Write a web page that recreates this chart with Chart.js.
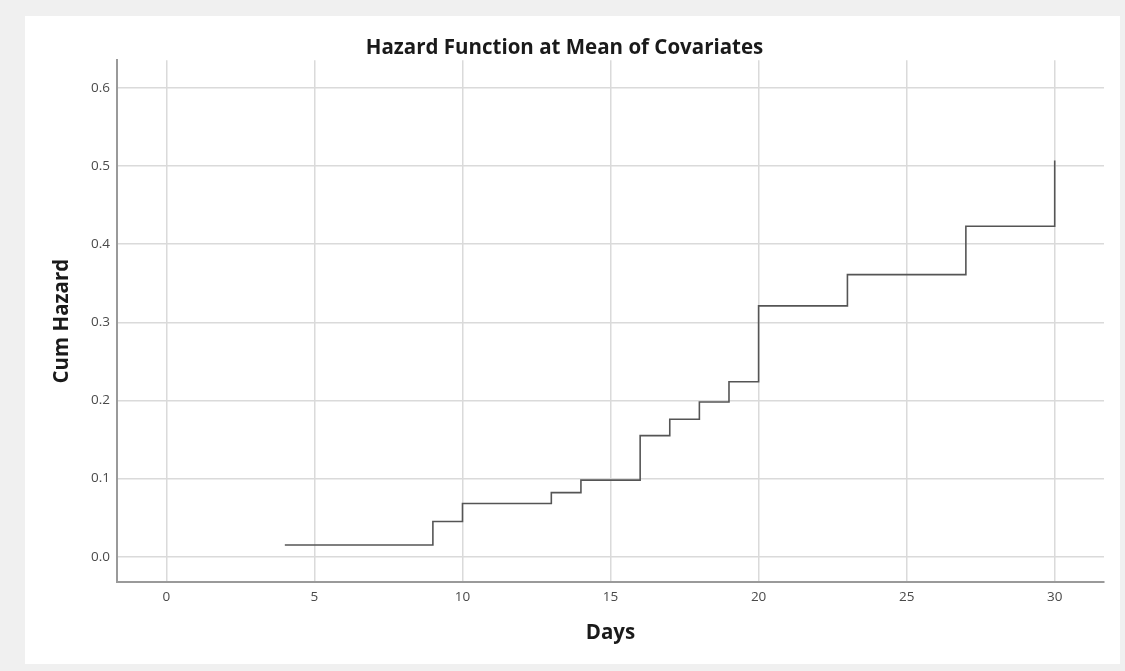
<!DOCTYPE html>
<html>
<head>
<meta charset="utf-8">
<script src="https://cdn.jsdelivr.net/npm/chart.js@4"></script>
<style>
  html, body { margin: 0; padding: 0; background: #f0f0f0; }
  #wrap { width: 1125px; height: 671px; }
</style>
</head>
<body>
<div id="wrap"><canvas id="hazardChart" width="1125" height="671"></canvas></div>
<script>
// cumulative hazard, step function (value holds until the next day listed)
const days = [4, 9, 10, 13, 14, 16, 17, 18, 19, 20, 23, 27, 30];
const cumHazard = [0.015, 0.045, 0.068, 0.082, 0.098, 0.155, 0.176, 0.198, 0.224, 0.321, 0.361, 0.423, 0.507];

const xTicks = [0, 5, 10, 15, 20, 25, 30];
const yTicks = [0.0, 0.1, 0.2, 0.3, 0.4, 0.5, 0.6];

const tickFont = { family: "'Open Sans', sans-serif", size: 13.5 };
const boldFont = (s) => ({ family: "'Open Sans', sans-serif", size: s, weight: "bold" });

// grey page with the white chart panel on it
const panelBg = {
  id: "panelBg",
  beforeDraw(chart) {
    const ctx = chart.ctx;
    ctx.save();
    ctx.fillStyle = "#f0f0f0";
    ctx.fillRect(0, 0, chart.width, chart.height);
    ctx.fillStyle = "#ffffff";
    ctx.fillRect(25, 16, 1095, 648);
    ctx.restore();
  },
};

const ctxEl = document.getElementById("hazardChart").getContext("2d");

const chart = new Chart(ctxEl, {
  type: "line",
  data: {
    datasets: [
      {
        label: "Cum Hazard",
        data: days.map((d, i) => ({ x: d, y: cumHazard[i] })),
        stepped: true,
        borderColor: "#555555",
        borderWidth: 1.6,
        pointRadius: 0,
        fill: false,
      },
    ],
  },
  options: {
    responsive: false,
    animation: false,
    layout: { padding: { top: 16, left: 25, right: 21, bottom: 7 } },
    plugins: {
      legend: { display: false },
      tooltip: { enabled: false },
      title: {
        display: true,
        text: "Hazard Function at Mean of Covariates",
        color: "#1a1a1a",
        font: boldFont(20.5),
        padding: { top: 19.7, bottom: 0 },
      },
    },
    scales: {
      x: {
        type: "linear",
        min: -1.668,
        max: 31.665,
        afterBuildTicks: (scale) => {
          scale.ticks = xTicks.map((v) => ({ value: v }));
        },
        afterFit: (scale) => {
          scale.height = 82;
        },
        ticks: { color: "#4a4a4a", font: tickFont, padding: 7 },
        grid: { color: "#dadada", lineWidth: 1.5, drawTicks: false },
        border: { color: "#9a9a9a", width: 2 },
        title: {
          display: true,
          text: "Days",
          color: "#1a1a1a",
          font: boldFont(20.5),
          padding: { top: 0, bottom: 18.7 },
        },
      },
      y: {
        type: "linear",
        min: -0.0324,
        max: 0.6354,
        afterBuildTicks: (scale) => {
          scale.ticks = yTicks.map((v) => ({ value: v }));
        },
        afterFit: (scale) => {
          scale.width = 92;
        },
        ticks: {
          color: "#4a4a4a",
          font: tickFont,
          padding: 7,
          callback: (v) => Number(v).toFixed(1),
        },
        grid: { color: "#dadada", lineWidth: 1.5, drawTicks: false },
        border: { color: "#9a9a9a", width: 2 },
        title: {
          display: true,
          text: "Cum Hazard",
          color: "#1a1a1a",
          font: boldFont(20.5),
          padding: { top: 24.4, bottom: 0 },
        },
      },
    },
  },
  plugins: [panelBg],
});
</script>
</body>
</html>
